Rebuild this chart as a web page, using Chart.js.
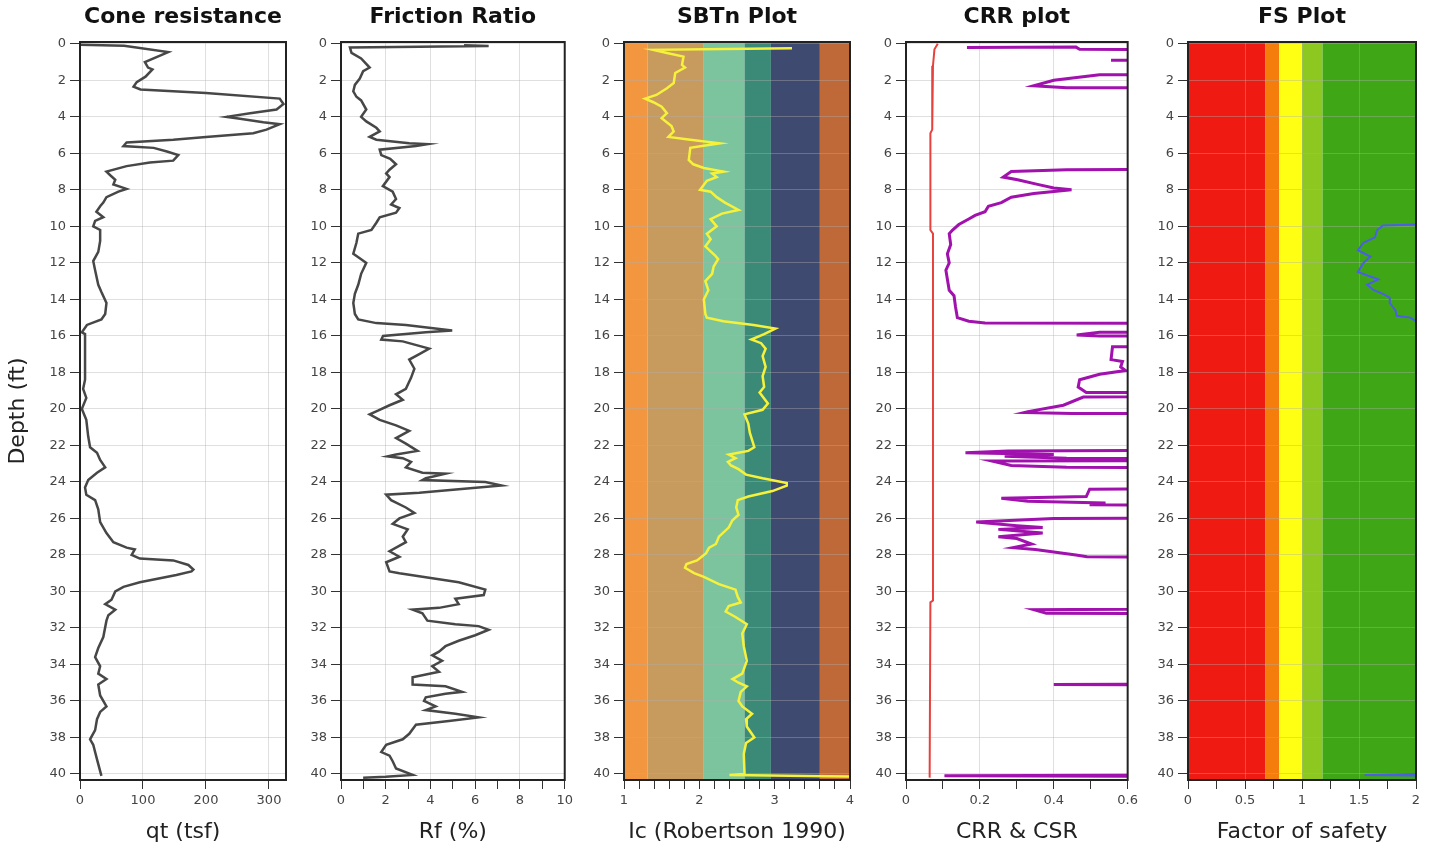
<!DOCTYPE html>
<html>
<head>
<meta charset="utf-8">
<script src="https://cdn.jsdelivr.net/npm/chart.js@4.4.1/dist/chart.umd.min.js"></script>
<style>
  body { margin: 0; background: #fff; width: 1432px; height: 850px; overflow: hidden; position: relative; }
  canvas { position: absolute; top: 0; }
</style>
</head>
<body>
<canvas id="coneChart" width="296" height="850" style="left:0px"></canvas>
<canvas id="frictionChart" width="286" height="850" style="left:291px"></canvas>
<canvas id="sbtChart" width="286" height="850" style="left:574px"></canvas>
<canvas id="crrChart" width="286" height="850" style="left:856px"></canvas>
<canvas id="fsChart" width="288" height="850" style="left:1138px"></canvas>
<script>
// Cone resistance qt (tsf) vs depth (ft)
const qtDepth = [0.05, 0.1, 0.45, 1.0, 1.3, 1.4, 1.8, 2.1, 2.35, 2.5, 2.7, 3.0, 3.3, 3.6, 3.8, 4.0, 4.1, 4.3, 4.4, 4.7, 4.9, 5.1, 5.25, 5.4, 5.6, 5.7, 5.9, 6.1, 6.4, 6.5, 6.7, 7.0, 7.2, 7.45, 7.7, 7.95, 8.1, 8.4, 8.7, 8.9, 9.2, 9.5, 9.7, 10.0, 10.2, 10.8, 11.4, 11.9, 12.4, 13.2, 13.6, 14.2, 14.8, 15.1, 15.4, 15.8, 15.9, 18.4, 18.9, 19.4, 20.0, 20.6, 21.5, 22.1, 22.4, 22.8, 23.2, 23.5, 23.9, 24.3, 24.7, 25.0, 25.5, 26.2, 26.8, 27.3, 27.6, 27.7, 28.0, 28.2, 28.3, 28.55, 28.8, 28.9, 29.1, 29.5, 29.75, 30.0, 30.45, 30.7, 31.0, 31.3, 31.6, 32.5, 33.1, 33.6, 34.1, 34.5, 34.8, 35.1, 35.7, 36.3, 36.6, 37.0, 37.6, 38.1, 38.4, 39.2, 40.1];
const qtValue = [0, 70, 140, 103, 108, 115, 104, 90, 85, 96, 200, 317, 323, 312, 270, 233, 254, 291, 317, 296, 275, 200, 148, 74, 69, 117, 138, 156, 148, 111, 74, 42, 48, 56, 53, 74, 61, 42, 37, 32, 26, 37, 24, 21, 32, 32, 29, 21, 24, 29, 34, 42, 40, 34, 11, 3, 8, 8, 5, 10, 3, 10, 13, 16, 27, 32, 40, 27, 13, 8, 10, 24, 29, 32, 42, 53, 74, 87, 82, 95, 148, 172, 180, 177, 153, 95, 69, 56, 50, 40, 56, 45, 42, 37, 29, 24, 32, 29, 42, 29, 32, 42, 32, 27, 24, 16, 21, 27, 34];

// Friction ratio Rf (%) vs depth
const rfDepth = [0.08, 0.12, 0.2, 0.5, 0.8, 1.3, 1.5, 1.9, 2.25, 2.6, 2.9, 3.1, 3.6, 4.0, 4.25, 4.6, 4.8, 5.1, 5.25, 5.45, 5.5, 5.6, 5.8, 6.1, 6.3, 6.6, 6.9, 7.1, 7.3, 7.8, 8.1, 8.5, 8.8, 9.0, 9.25, 9.5, 9.8, 10.2, 10.4, 10.9, 11.5, 11.8, 12.0, 12.6, 13.2, 13.7, 14.2, 14.8, 15.1, 15.3, 15.4, 15.7, 15.8, 16.0, 16.2, 16.3, 16.7, 17.0, 17.3, 17.8, 18.3, 18.9, 19.2, 19.5, 19.8, 20.1, 20.3, 20.6, 20.9, 21.2, 21.6, 21.9, 22.3, 22.5, 22.6, 22.7, 22.9, 23.2, 23.5, 23.55, 23.8, 23.9, 24.0, 24.2, 24.4, 24.6, 24.7, 25.0, 25.4, 25.7, 26.0, 26.3, 26.6, 27.0, 27.3, 27.8, 28.1, 28.4, 28.9, 29.0, 29.3, 29.5, 29.9, 30.2, 30.4, 30.7, 30.9, 31.0, 31.2, 31.6, 31.8, 31.9, 32.1, 32.4, 32.7, 33.0, 33.3, 33.5, 33.8, 34.1, 34.4, 34.7, 35.1, 35.2, 35.5, 35.6, 35.8, 36.0, 36.3, 36.5, 36.7, 36.9, 37.1, 37.3, 37.8, 38.1, 38.4, 38.8, 39.0, 39.3, 39.7, 40.05, 40.15, 40.2];
const rfValue = [5.5, 6.6, 0.4, 0.47, 0.9, 1.28, 0.99, 0.84, 0.62, 0.55, 0.69, 0.9, 1.13, 0.9, 1.13, 1.58, 1.73, 1.28, 1.58, 3.05, 3.86, 3.35, 1.73, 1.8, 2.2, 2.46, 2.17, 2.02, 2.17, 1.87, 2.31, 2.46, 2.24, 2.61, 2.46, 1.73, 1.58, 1.36, 0.77, 0.69, 0.55, 0.9, 1.13, 0.9, 0.77, 0.62, 0.55, 0.62, 0.77, 1.58, 2.9, 4.97, 3.79, 1.88, 1.8, 2.76, 3.94, 3.5, 3.05, 3.28, 3.13, 2.9, 2.46, 2.76, 2.17, 1.65, 1.28, 1.73, 2.46, 3.05, 2.46, 2.9, 3.42, 2.46, 2.09, 2.76, 3.13, 2.9, 3.64, 4.67, 3.79, 3.64, 6.45, 7.18, 5.26, 3.5, 2.02, 2.24, 2.9, 3.28, 2.61, 2.31, 2.98, 2.76, 2.9, 2.17, 2.61, 2.02, 2.17, 2.61, 4.23, 5.26, 6.45, 6.38, 5.11, 5.26, 4.38, 3.2, 3.64, 3.86, 5.11, 6.15, 6.6, 6.0, 5.26, 4.67, 4.38, 4.08, 4.52, 4.08, 4.38, 3.2, 3.2, 4.67, 5.41, 4.67, 3.79, 3.71, 4.23, 3.79, 5.11, 6.15, 4.82, 3.35, 3.05, 2.76, 2.02, 1.8, 2.17, 2.31, 2.46, 3.2, 2.0, 0.99];

// Soil behaviour type index Ic vs depth
const icDepth = [0.24, 0.33, 0.5, 0.7, 1.15, 1.3, 1.6, 2.15, 2.43, 2.8, 3.0, 3.2, 3.44, 3.8, 4.07, 4.5, 4.8, 5.1, 5.26, 5.45, 5.7, 6.36, 6.6, 6.8, 7.0, 7.1, 7.3, 7.5, 8.0, 8.1, 8.4, 8.7, 9.1, 9.3, 9.6, 10.0, 10.4, 10.7, 11.1, 11.6, 11.8, 12.2, 12.6, 13.0, 13.5, 14.0, 14.8, 15.0, 15.2, 15.4, 15.6, 15.9, 16.2, 16.4, 16.7, 17.1, 17.7, 18.2, 18.8, 19.1, 19.7, 20.05, 20.3, 20.8, 21.3, 22.1, 22.3, 22.4, 22.5, 22.7, 22.9, 23.1, 23.3, 23.6, 23.8, 24.06, 24.2, 24.5, 24.8, 25.0, 25.4, 25.8, 26.1, 26.5, 27.0, 27.4, 27.6, 27.9, 28.3, 28.5, 28.7, 29.0, 29.2, 29.6, 29.9, 30.3, 30.6, 30.8, 31.1, 31.4, 31.8, 32.3, 33.0, 33.8, 34.5, 34.8, 35.0, 35.2, 35.5, 36.0, 36.3, 36.7, 37.0, 37.4, 38.0, 38.3, 38.9, 40.0, 40.05, 40.15];
const icValue = [3.23, 1.39, 1.57, 1.79, 1.77, 1.81, 1.68, 1.66, 1.57, 1.43, 1.28, 1.39, 1.5, 1.57, 1.5, 1.63, 1.66, 1.59, 1.88, 2.27, 1.88, 1.86, 1.92, 2.06, 2.32, 2.17, 2.23, 2.1, 2.01, 2.15, 2.23, 2.34, 2.52, 2.3, 2.15, 2.23, 2.1, 2.15, 2.08, 2.21, 2.25, 2.19, 2.17, 2.08, 2.12, 2.06, 2.08, 2.1, 2.32, 2.72, 3.01, 2.86, 2.69, 2.82, 2.88, 2.84, 2.88, 2.84, 2.86, 2.8, 2.91, 2.84, 2.6, 2.65, 2.67, 2.73, 2.65, 2.52, 2.39, 2.48, 2.38, 2.42, 2.52, 2.62, 2.84, 3.16, 3.16, 2.97, 2.65, 2.51, 2.49, 2.52, 2.44, 2.39, 2.26, 2.22, 2.13, 2.09, 1.97, 1.83, 1.81, 1.93, 2.06, 2.26, 2.48, 2.51, 2.55, 2.39, 2.35, 2.48, 2.63, 2.57, 2.59, 2.63, 2.57, 2.44, 2.52, 2.63, 2.55, 2.52, 2.57, 2.7, 2.62, 2.63, 2.73, 2.62, 2.59, 2.6, 2.4, 4.2];
// Robertson (1990) zone boundaries and colours
const icZoneEdges = [1, 1.31, 2.05, 2.6, 2.95, 3.6, 4];
const icZoneColors = ['#f29640', '#c79a5e', '#7cc49d', '#3b8a77', '#3e4a6f', '#bf6838'];

// Cyclic stress ratio and cyclic resistance ratio vs depth
const csrDepth = [0.0, 0.3, 1.2, 4.7, 4.9, 10.2, 10.4, 30.5, 30.6, 40.2];
const csrValue = [0.086, 0.077, 0.073, 0.071, 0.066, 0.066, 0.073, 0.073, 0.066, 0.064];
const crrDepth = [0.2, 0.18, 0.3, 0.4, 0.8, 0.9, 1.0, 1.6, 1.7, 2.0, 2.3, 2.4, 2.45, 6.8, 6.9, 6.99, 7.3, 7.45, 7.7, 7.9, 8.0, 8.2, 8.4, 8.7, 8.9, 9.2, 9.4, 9.6, 9.9, 10.2, 10.4, 11.0, 11.5, 12.0, 12.4, 12.9, 13.5, 13.8, 14.4, 15.0, 15.2, 15.3, 15.35, 15.7, 15.8, 15.95, 16.0, 16.1, 16.5, 16.6, 17.3, 17.4, 17.7, 17.9, 18.1, 18.4, 18.8, 19.1, 19.2, 19.35, 19.8, 20.15, 20.2, 20.25, 20.3, 22.2, 22.3, 22.4, 22.5, 22.6, 22.7, 22.8, 22.85, 23.1, 23.2, 23.3, 24.25, 24.4, 24.8, 24.9, 25.06, 25.15, 25.25, 25.4, 25.95, 26.0, 26.2, 26.4, 26.5, 26.6, 26.8, 27.0, 27.1, 27.4, 27.6, 27.7, 28.0, 28.1, 28.3, 30.8, 31.0, 31.2, 31.3, 34.95, 35.1, 35.2, 40.0, 40.1, 40.2];
const crrValue = [0.165, 0.46, 0.47, 2, 2, 0.555, 2, 2, 0.524, 0.4, 0.346, 0.435, 2, 2, 0.435, 0.285, 0.263, 0.302, 0.356, 0.4, 0.448, 0.346, 0.285, 0.258, 0.223, 0.214, 0.187, 0.17, 0.143, 0.126, 0.117, 0.121, 0.112, 0.117, 0.108, 0.112, 0.117, 0.13, 0.134, 0.139, 0.17, 0.214, 2, 2, 0.524, 0.462, 0.524, 2, 2, 0.559, 0.555, 0.586, 0.581, 0.594, 0.524, 0.47, 0.466, 0.488, 2, 0.48, 0.426, 0.33, 0.32, 0.45, 2, 2, 0.276, 0.161, 0.4, 0.267, 0.435, 2, 0.232, 0.285, 0.435, 2, 2, 0.497, 0.488, 0.258, 0.33, 0.54, 0.497, 2, 2, 0.4, 0.19, 0.3, 0.37, 0.25, 0.37, 0.25, 0.3, 0.34, 0.29, 0.35, 0.46, 0.49, 2, 2, 0.346, 0.38, 2, 2, 0.4, 2, 2, 0.104, 2];

// Factor of safety vs depth
const fsDepth = [0, 9.85, 9.9, 9.95, 10.2, 10.6, 10.9, 11.3, 11.5, 11.65, 12.0, 12.5, 12.75, 12.9, 13.2, 13.5, 13.7, 13.9, 14.2, 14.6, 14.9, 15.0, 15.2, 15.3, 39.9, 40.05, 40.15];
const fsValue = [3, 3, 2.0, 1.71, 1.66, 1.64, 1.54, 1.49, 1.55, 1.6, 1.54, 1.49, 1.6, 1.67, 1.57, 1.63, 1.71, 1.77, 1.77, 1.82, 1.83, 1.95, 2.0, 3, 3, 1.55, 3];
const fsZoneEdges = [0, 0.68, 0.8, 1.0, 1.18, 2];
const fsZoneColors = ['#ef1a12', '#f47d0c', '#ffff14', '#8cc81f', '#3fa716'];

const FONT = 'DejaVu Sans';
const gridColor = 'rgba(175,175,175,0.4)';

function points(depths, values) {
    return depths.map((d, i) => ({ x: values[i], y: d }));
}

// colour bands behind the curves, placed through the x scale
const bandsPlugin = {
    id: 'bands',
    beforeDraw(chart, args, opts) {
        if (!opts.edges) return;
        const { ctx, chartArea, scales } = chart;
        ctx.save();
        for (let i = 0; i < opts.colors.length; i++) {
            const x0 = scales.x.getPixelForValue(opts.edges[i]);
            const x1 = scales.x.getPixelForValue(opts.edges[i + 1]);
            ctx.fillStyle = opts.colors[i];
            ctx.fillRect(x0, chartArea.top, x1 - x0, chartArea.bottom - chartArea.top);
        }
        ctx.restore();
    }
};

const framePlugin = {
    id: 'frame',
    afterDatasetsDraw(chart) {
        const { ctx, chartArea } = chart;
        ctx.save();
        ctx.strokeStyle = '#222';
        ctx.lineWidth = 2;
        ctx.strokeRect(chartArea.left, chartArea.top, chartArea.right - chartArea.left, chartArea.bottom - chartArea.top);
        ctx.restore();
    }
};

function makePanel(id, cfg) {
    const ctx = document.getElementById(id).getContext('2d');
    new Chart(ctx, {
        type: 'scatter',
        data: { datasets: cfg.datasets },
        plugins: [bandsPlugin, framePlugin],
        options: {
            responsive: false,
            animation: false,
            layout: { padding: { left: 0, right: 10, top: 0, bottom: 0 } },
            elements: { point: { radius: 0 } },
            plugins: {
                legend: { display: false },
                tooltip: { enabled: false },
                title: {
                    display: true,
                    text: cfg.title,
                    fullSize: false,
                    color: '#111',
                    font: { family: FONT, size: 22, weight: 'bold' },
                    padding: { top: 4, bottom: 11.6 }
                },
                bands: { edges: cfg.bandEdges, colors: cfg.bandColors }
            },
            scales: {
                x: {
                    type: 'linear',
                    position: 'bottom',
                    min: cfg.xMin,
                    max: cfg.xMax,
                    afterFit: s => { s.height = 70; },
                    ticks: {
                        stepSize: cfg.xStep,
                        includeBounds: false,
                        autoSkip: false,
                        maxRotation: 0,
                        padding: 4,
                        color: '#444',
                        font: { family: FONT, size: 13 },
                        callback: v => cfg.xLabel(v) ? String(Math.round(v * 100) / 100) : ''
                    },
                    grid: {
                        color: c => cfg.xGrid(c.tick.value) ? gridColor : 'rgba(0,0,0,0)',
                        tickColor: '#333',
                        tickLength: 9
                    },
                    border: { color: '#222', width: 2 },
                    title: {
                        display: true,
                        text: cfg.xTitle,
                        color: '#222',
                        font: { family: FONT, size: 22 },
                        padding: { top: 0, bottom: 5 }
                    }
                },
                y: {
                    type: 'linear',
                    reverse: true,
                    min: -0.1,
                    max: 40.33,
                    afterFit: s => { s.width = cfg.yWidth; },
                    ticks: {
                        stepSize: 2,
                        includeBounds: false,
                        autoSkip: false,
                        padding: 4,
                        color: '#444',
                        font: { family: FONT, size: 13 }
                    },
                    grid: { color: gridColor, tickColor: '#333', tickLength: 10 },
                    border: { color: '#222', width: 2 },
                    title: {
                        display: !!cfg.yTitle,
                        text: cfg.yTitle || '',
                        color: '#222',
                        font: { family: FONT, size: 22 },
                        padding: { top: 5, bottom: 0 }
                    }
                }
            }
        }
    });
}

function line(data, color, width) {
    return { data: data, showLine: true, borderColor: color, borderWidth: width, pointRadius: 0, fill: false, clip: 0 };
}

makePanel('coneChart', {
    title: 'Cone resistance', xTitle: 'qt (tsf)', yTitle: 'Depth (ft)', yWidth: 80,
    xMin: 0, xMax: 327, xStep: 100,
    xLabel: v => true, xGrid: v => v > 0,
    datasets: [line(points(qtDepth, qtValue), '#474747', 2.5)]
});

makePanel('frictionChart', {
    title: 'Friction Ratio', xTitle: 'Rf (%)', yWidth: 50,
    xMin: 0, xMax: 10, xStep: 1,
    xLabel: v => Math.round(v) % 2 === 0, xGrid: v => Math.round(v) % 2 === 0 && v > 0 && v < 10,
    datasets: [line(points(rfDepth, rfValue), '#474747', 2.5)]
});

makePanel('sbtChart', {
    title: 'SBTn Plot', xTitle: 'Ic (Robertson 1990)', yWidth: 50,
    xMin: 1, xMax: 4, xStep: 0.2,
    xLabel: v => Math.abs(v - Math.round(v)) < 1e-6, xGrid: v => false,
    bandEdges: icZoneEdges, bandColors: icZoneColors,
    datasets: [line(points(icDepth, icValue), '#f6f23c', 2.5)]
});

makePanel('crrChart', {
    title: 'CRR plot', xTitle: 'CRR & CSR', yWidth: 50,
    xMin: 0, xMax: 0.6, xStep: 0.1,
    xLabel: v => Math.round(v * 10) % 2 === 0, xGrid: v => Math.round(v * 10) % 2 === 0 && v > 0.01 && v < 0.59,
    datasets: [
        line(points(csrDepth, csrValue), '#e8403c', 2),
        line(points(crrDepth, crrValue), '#a011ad', 3)
    ]
});

makePanel('fsChart', {
    title: 'FS Plot', xTitle: 'Factor of safety', yWidth: 50,
    xMin: 0, xMax: 2, xStep: 0.25,
    xLabel: v => Math.round(v * 100) % 50 === 0, xGrid: v => Math.round(v * 100) % 50 === 0 && v > 0 && v < 2,
    bandEdges: fsZoneEdges, bandColors: fsZoneColors,
    datasets: [line(points(fsDepth, fsValue), '#4b5ee6', 2)]
});
</script>
</body>
</html>
